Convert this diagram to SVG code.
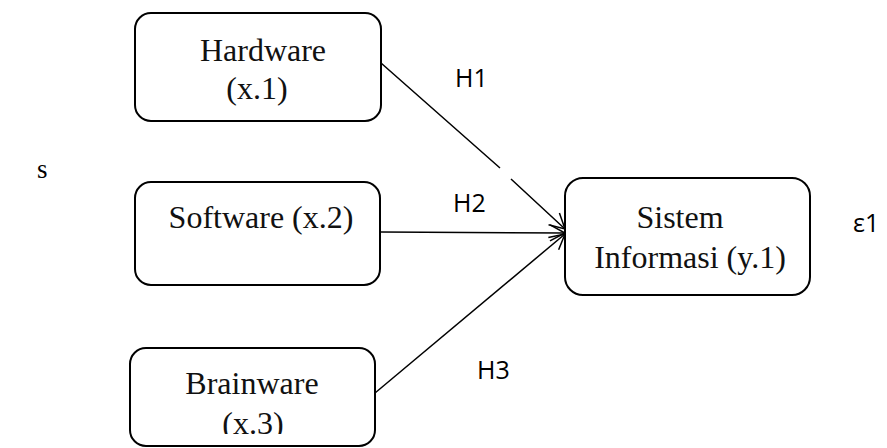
<svg xmlns="http://www.w3.org/2000/svg" width="887" height="448" viewBox="0 0 887 448">
<style>
  .box { fill: #ffffff; stroke: #000000; stroke-width: 2; }
  .lbl { font-family: "Liberation Serif", "Times New Roman", serif; font-size: 32px; fill: #111111; text-anchor: middle; }
  .hyp { font-family: "Open Sans", "Liberation Sans", sans-serif; font-size: 25px; fill: #000000; }
  .conn { fill: none; stroke: #000000; stroke-width: 1.5; marker-end: url(#arr); }
</style>
<defs>
  <marker id="arr" markerUnits="userSpaceOnUse" markerWidth="20" markerHeight="20" viewBox="0 0 20 20" refX="16" refY="10" orient="auto">
    <path d="M1,2 L16,10 L1,18" fill="none" stroke="#000000" stroke-width="1.5"/>
  </marker>
  <clipPath id="clipBottom">
    <rect x="0" y="0" width="887" height="434"/>
  </clipPath>
</defs>
<rect width="887" height="448" fill="#ffffff"/>

<g id="connectors">
  <path class="conn" d="M381,63 L500,168 M511,179 L565,229"/>
  <path class="conn" d="M381,232 L565,233"/>
  <path class="conn" d="M375,393 L565,234"/>
</g>

<g id="hardware">
  <rect class="box" x="135" y="13" width="246" height="108" rx="16"/>
  <text class="lbl" x="263" y="61">Hardware</text>
  <text class="lbl" x="257" y="99">(x.1)</text>
</g>

<g id="software">
  <rect class="box" x="135" y="182" width="245" height="103" rx="16"/>
  <text class="lbl" x="261" y="228">Software (x.2)</text>
</g>

<g id="brainware">
  <rect class="box" x="130" y="348" width="245" height="98" rx="16"/>
  <text class="lbl" x="252" y="394">Brainware</text>
  <text class="lbl" x="253" y="434" clip-path="url(#clipBottom)">(x.3)</text>
</g>

<g id="sistem">
  <rect class="box" x="565" y="178" width="245" height="117" rx="18"/>
  <text class="lbl" x="680" y="228">Sistem</text>
  <text class="lbl" x="690" y="268">Informasi (y.1)</text>
</g>

<g id="labels">
  <text class="hyp" x="455" y="87">H1</text>
  <text class="hyp" x="453" y="212">H2</text>
  <text class="hyp" x="477" y="379">H3</text>
  <text class="hyp" x="853" y="232">ε1</text>
  <text x="37" y="178" style="font-family: 'Liberation Serif', serif; font-size: 27px; fill: #000000;">s</text>
</g>
</svg>
